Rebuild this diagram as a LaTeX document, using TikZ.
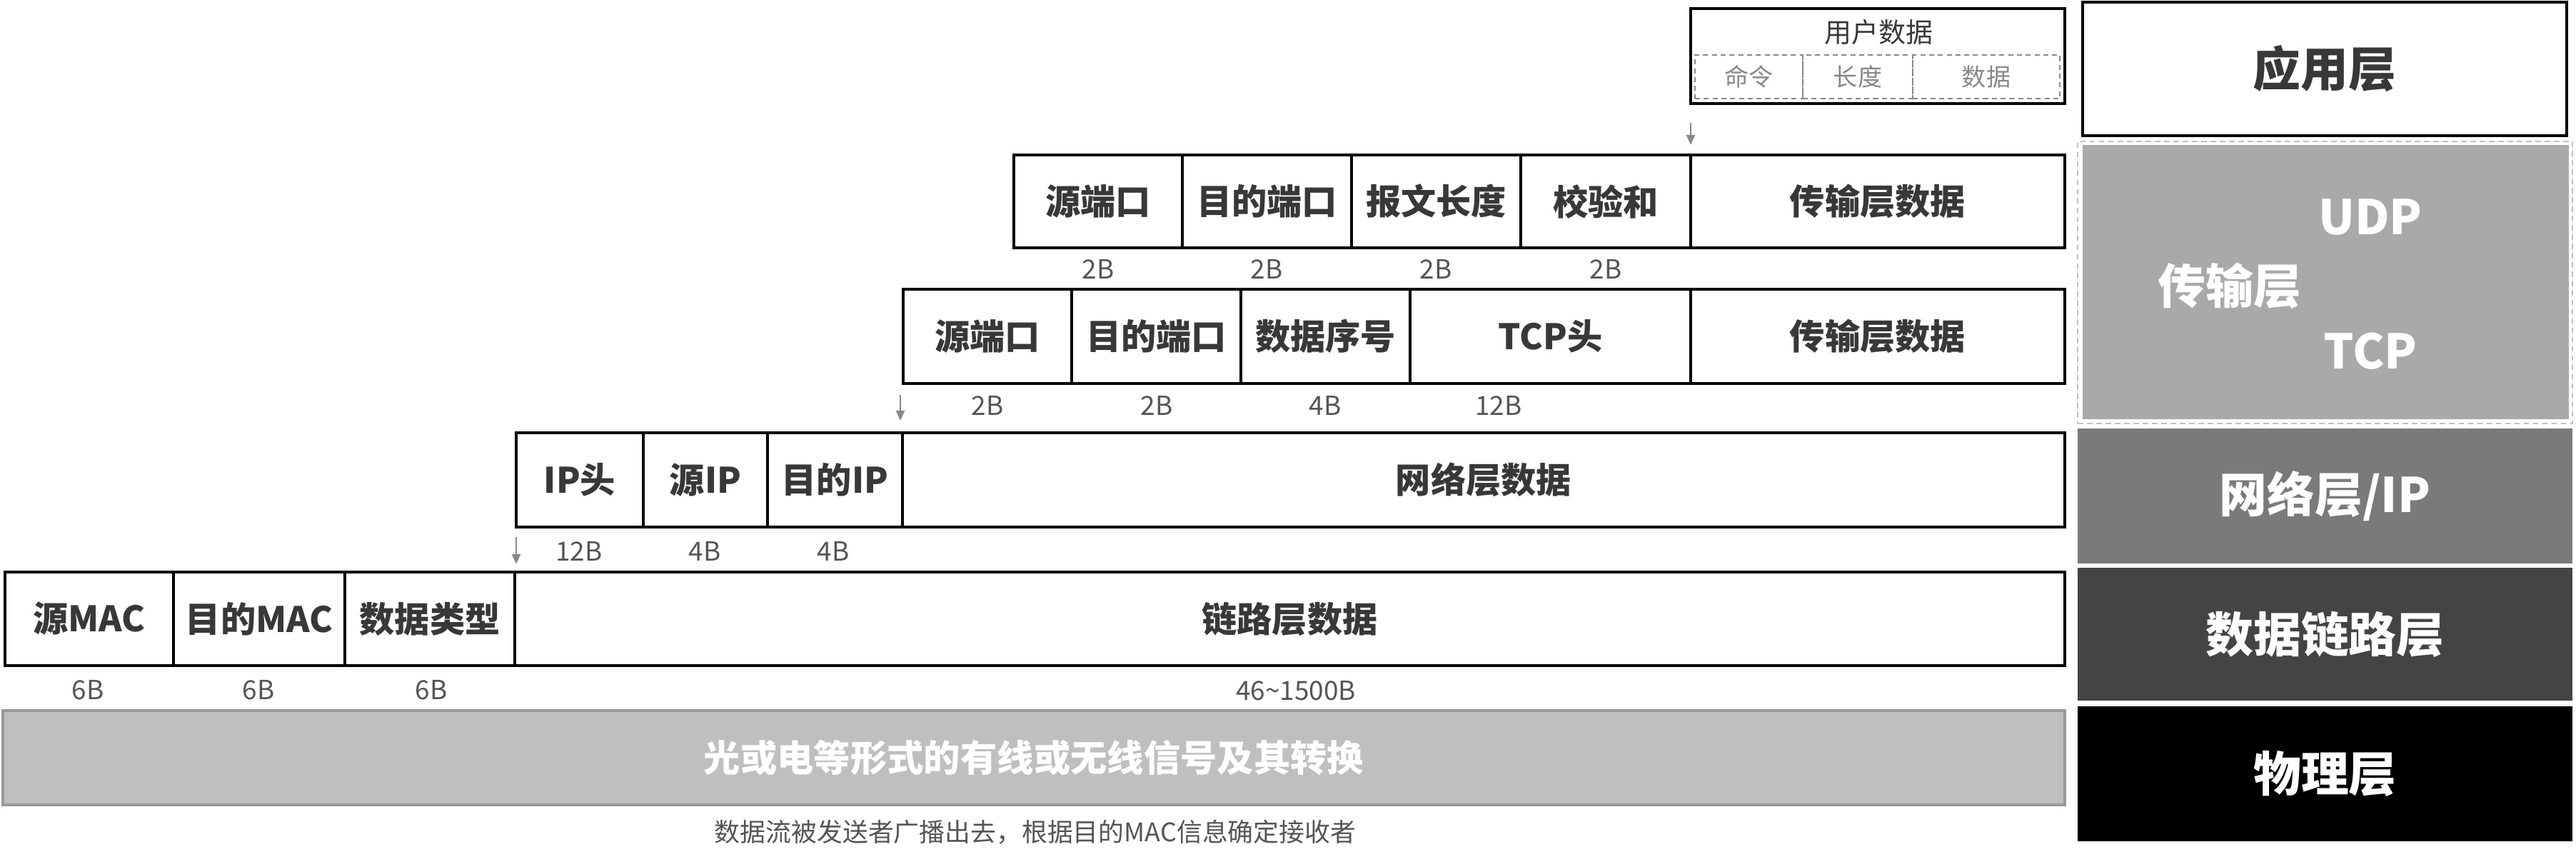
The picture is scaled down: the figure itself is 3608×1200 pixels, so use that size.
\documentclass[tikz,border=0pt]{standalone}
\usepackage{fontspec}
\setmainfont{Noto Sans CJK SC}
\usetikzlibrary{fit,arrows.meta}
\definecolor{txt}{HTML}{383838}
\definecolor{sz}{HTML}{555555}
\definecolor{ugray}{HTML}{888888}
\definecolor{transfill}{HTML}{A9A9A9}
\definecolor{netfill}{HTML}{7A7A7A}
\definecolor{linkfill}{HTML}{444444}
\definecolor{physfill}{HTML}{BFBFBF}
\definecolor{physline}{HTML}{999999}
\begin{document}
\begin{tikzpicture}[x=0.01cm,y=-0.01cm,
  fld/.style={draw=black,line width=1pt,inner sep=0pt},
  ft/.style={inner sep=0pt,text=txt,font=\fontsize{14pt}{17pt}\selectfont\bfseries},
  sub/.style={draw=ugray,dashed,dash pattern=on 2pt off 1.5pt,line width=0.6pt,inner sep=0pt},
  subt/.style={inner sep=0pt,text=ugray,font=\fontsize{9.7pt}{12pt}\selectfont},
  sizelab/.style={text=sz,inner sep=0pt,font=\fontsize{10.5pt}{12pt}\selectfont},
  layert/.style={inner sep=0pt,font=\fontsize{19pt}{22pt}\selectfont\bfseries},
  darr/.style={draw=ugray,line width=0.7pt,-{Triangle[length=4pt,width=3.4pt]}}]
\useasboundingbox (0,0) rectangle (3608,1200);

% ---------- layer column ----------
\node[draw=black,line width=1.2pt,fill=white,inner sep=0pt,fit={(2917,3)(3595,190)},label={[layert,text=txt]center:应用层}] (app) {};
\node[inner sep=0pt,draw=physfill,dashed,dash pattern=on 2.2pt off 1.5pt,line width=0.7pt,fit={(2910,198)(3603,593)}] (transb) {};
\node[inner sep=0pt,fill=transfill,fit={(2917,203)(3598,587)}] (trans) {};
\node[layert,text=white] (tl) at (3123,400) {传输层};
\node[layert,text=white] (udp) at (3320,304) {UDP};
\node[layert,text=white] (tcp) at (3320,492) {TCP};
\node[inner sep=0pt,fill=netfill,fit={(2910,600)(3603,789)},label={[layert,text=white]center:网络层/IP}] (net) {};
\node[inner sep=0pt,fill=linkfill,fit={(2910,795)(3603,981)},label={[layert,text=white]center:数据链路层}] (link) {};
\node[inner sep=0pt,fill=black,fit={(2910,989)(3603,1178)},label={[layert,text=white]center:物理层}] (phys) {};

% ---------- application data ----------
\node[draw=black,line width=1pt,inner sep=0pt,fit={(2368,12)(2892,145)}] (user) {};
\node[text=txt,inner sep=0pt,font=\fontsize{10.8pt}{13pt}\selectfont] (usert) at (2631,45) {用户数据};
\node[sub,fit={(2374,77)(2525,138)},label={[subt]center:命令}] (cmd) {};
\node[sub,fit={(2525,77)(2679,138)},label={[subt]center:长度}] (len) {};
\node[sub,fit={(2679,77)(2885,138)},label={[subt]center:数据}] (dat) {};

% ---------- UDP row ----------
\node[fld,fit={(1420,217)(1656,347)},label={[ft]center:源端口}] (u1) {};
\node[fld,fit={(1656,217)(1893,347)},label={[ft]center:目的端口}] (u2) {};
\node[fld,fit={(1893,217)(2130,347)},label={[ft]center:报文长度}] (u3) {};
\node[fld,fit={(2130,217)(2368,347)},label={[ft]center:校验和}] (u4) {};
\node[fld,fit={(2368,217)(2892,347)},label={[ft]center:传输层数据}] (u5) {};
\node[sizelab] (us1) at (1538,377) {2B};
\node[sizelab] (us2) at (1774,377) {2B};
\node[sizelab] (us3) at (2011,377) {2B};
\node[sizelab] (us4) at (2249,377) {2B};

% ---------- TCP row ----------
\node[fld,fit={(1265,405)(1501,537)},label={[ft]center:源端口}] (t1) {};
\node[fld,fit={(1501,405)(1738,537)},label={[ft]center:目的端口}] (t2) {};
\node[fld,fit={(1738,405)(1975,537)},label={[ft]center:数据序号}] (t3) {};
\node[fld,fit={(1975,405)(2368,537)},label={[ft]center:TCP头}] (t4) {};
\node[fld,fit={(2368,405)(2892,537)},label={[ft]center:传输层数据}] (t5) {};
\node[sizelab] (ts1) at (1383,568) {2B};
\node[sizelab] (ts2) at (1620,568) {2B};
\node[sizelab] (ts3) at (1856,568) {4B};
\node[sizelab] (ts4) at (2099,568) {12B};

% ---------- IP row ----------
\node[fld,fit={(723,606)(901,738)},label={[ft]center:IP头}] (i1) {};
\node[fld,fit={(901,606)(1075,738)},label={[ft]center:源IP}] (i2) {};
\node[fld,fit={(1075,606)(1264,738)},label={[ft]center:目的IP}] (i3) {};
\node[fld,fit={(1264,606)(2892,738)},label={[ft]center:网络层数据}] (i4) {};
\node[sizelab] (is1) at (811,772) {12B};
\node[sizelab] (is2) at (987,772) {4B};
\node[sizelab] (is3) at (1167,772) {4B};

% ---------- MAC row ----------
\node[fld,fit={(7,801)(243,932)},label={[ft]center:源MAC}] (m1) {};
\node[fld,fit={(243,801)(483,932)},label={[ft]center:目的MAC}] (m2) {};
\node[fld,fit={(483,801)(721,932)},label={[ft]center:数据类型}] (m3) {};
\node[fld,fit={(721,801)(2892,932)},label={[ft]center:链路层数据}] (m4) {};
\node[sizelab] (ms1) at (123,966) {6B};
\node[sizelab] (ms2) at (362,966) {6B};
\node[sizelab] (ms3) at (604,966) {6B};
\node[sizelab] (ms4) at (1815,967) {46\textasciitilde1500B};

% ---------- physical ----------
\node[draw=physline,line width=1.3pt,fill=physfill,inner sep=0pt,fit={(4,995)(2892,1127)},label={[inner sep=0pt,text=white,font=\fontsize{14.6pt}{17pt}\selectfont\bfseries]center:光或电等形式的有线或无线信号及其转换}] (pbar) {};
\node[text=sz,inner sep=0pt,font=\fontsize{10.2pt}{12pt}\selectfont] (note) at (1450,1165) {数据流被发送者广播出去，根据目的MAC信息确定接收者};

% ---------- arrows ----------
\coordinate (a1s) at (2368,172); \coordinate (a1e) at (2368,203);
\coordinate (a2s) at (1261,553); \coordinate (a2e) at (1261,589);
\coordinate (a3s) at (723,752);  \coordinate (a3e) at (723,790);
\draw[darr] (a1s) -- (a1e);
\draw[darr] (a2s) -- (a2e);
\draw[darr] (a3s) -- (a3e);
\end{tikzpicture}
\end{document}
